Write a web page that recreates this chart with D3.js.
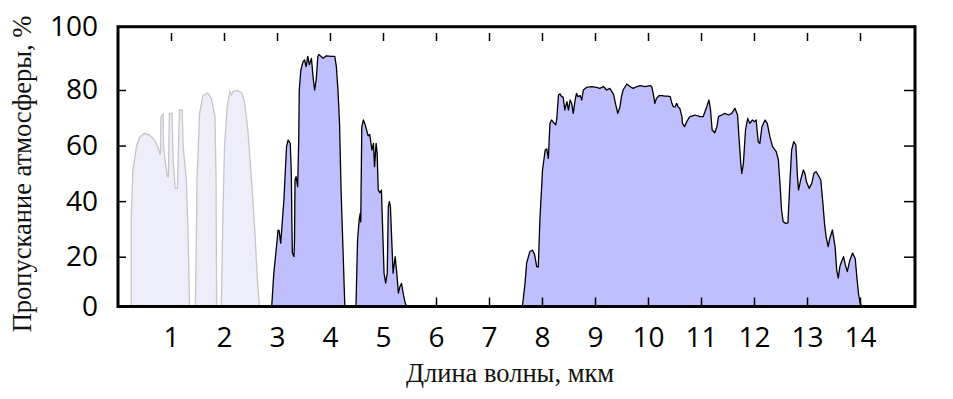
<!DOCTYPE html>
<html>
<head>
<meta charset="utf-8">
<script src="https://cdn.jsdelivr.net/npm/d3@7"></script>
<style>
    body { margin: 0; background: #fff; }
    .tick text { font-family: "Open Sans", sans-serif; font-size: 28px; fill: #000; }
    .title { font-family: "Liberation Serif", "Times New Roman", serif; font-size: 26.5px; fill: #111; }
</style>
</head>
<body>
<svg id="chart" width="953" height="399"></svg>
<script>

// wavelength (mkm), transmission (%)
var visBand1 = [[0.25,0],[0.25,34],[0.28,51],[0.35,60],[0.41,63],[0.50,64.4],[0.60,63.8],[0.69,62],[0.75,59.6],
    [0.80,56.6],[0.81,70.4],[0.85,71.4],[0.86,59.6],[0.88,56],[0.93,48.8],[0.95,48.8],[0.97,71.6],[1.02,71.6],
    [1.04,55],[1.08,44.6],[1.12,44.6],[1.16,72.8],[1.21,72.8],[1.23,59.6],[1.29,47.6],[1.32,29.6],[1.34,10.7],[1.35,0]];
var visBand2 = [[1.46,0],[1.48,29.6],[1.49,47.6],[1.54,71.6],[1.60,77.9],[1.69,79],[1.76,77],[1.83,70.4],[1.85,47.6],[1.86,0]];
var visBand3 = [[1.95,0],[1.98,35.6],[2.01,59.6],[2.06,74],[2.11,79.5],[2.14,78.2],[2.17,79.5],[2.26,79.8],[2.34,78.9],
    [2.39,75.3],[2.45,65.7],[2.52,47.6],[2.58,29.6],[2.63,10.7],[2.67,0]];

var band3to4 = [[2.90,0],[2.94,13.4],[2.99,23.6],[3.02,29.6],[3.04,29.4],[3.07,24.9],[3.13,40.4],[3.18,59.6],[3.21,62],
    [3.25,60.8],[3.27,50],[3.28,33.3],[3.29,21.4],[3.32,20],[3.33,25.4],[3.34,47.6],[3.36,48.8],[3.39,45.2],[3.41,62],
    [3.42,80],[3.45,86.3],[3.49,88.9],[3.52,89.5],[3.55,87.4],[3.58,90.6],[3.61,88],[3.65,90],[3.68,84.2],[3.71,80],
    [3.74,83.2],[3.77,90.6],[3.79,91.2],[3.87,90],[3.93,90.8],[4.03,90.6],[4.09,90.6],[4.12,87.4],[4.15,80],[4.18,68],
    [4.21,43.4],[4.25,20],[4.28,0]];
var band4to5 = [[4.49,0],[4.52,26],[4.55,33.2],[4.57,35.6],[4.58,32.5],[4.60,66.8],[4.63,69.2],[4.66,67.7],[4.69,65.6],
    [4.72,63.5],[4.75,64],[4.79,58.4],[4.82,60.8],[4.84,52.4],[4.87,60.8],[4.89,57.2],[4.91,44],[4.94,43],[4.97,44],
    [4.99,32],[5.02,13.4],[5.05,9.4],[5.08,13.4],[5.10,38],[5.12,39.8],[5.14,38],[5.17,23.6],[5.19,13.4],[5.23,20],
    [5.26,13.4],[5.29,5.4],[5.32,8],[5.35,9.3],[5.38,5.4],[5.42,1.3],[5.45,0]];
var band8to14 = [[7.63,0],[7.68,9.4],[7.71,17.4],[7.77,21.8],[7.82,22.4],[7.86,20.8],[7.90,16],[7.93,15.8],[7.96,33.2],
    [8.01,51.2],[8.06,58.4],[8.09,58.8],[8.12,55.4],[8.15,68],[8.18,69.2],[8.23,68],[8.26,67.5],[8.28,69.8],[8.31,78.2],
    [8.34,78.6],[8.37,77.6],[8.40,77.4],[8.43,72.8],[8.47,75.8],[8.50,72.8],[8.53,76.4],[8.56,75.2],[8.59,71.6],
    [8.62,75.8],[8.65,78.8],[8.68,77.6],[8.72,78],[8.75,76.4],[8.78,80],[8.84,80.8],[8.94,81.1],[9.03,80.8],[9.09,80.5],
    [9.16,81.1],[9.22,80],[9.28,80.5],[9.35,78.4],[9.39,74.8],[9.43,71.6],[9.47,73.9],[9.50,77.6],[9.53,80],[9.60,81.9],
    [9.66,81.1],[9.72,80.5],[9.79,81.1],[9.85,81.4],[9.94,81.1],[10.04,81.4],[10.07,81.1],[10.10,78.6],[10.13,75.2],
    [10.16,77],[10.21,78],[10.26,78],[10.32,77.8],[10.37,77.8],[10.42,77.6],[10.45,75.2],[10.48,73.9],[10.51,73.9],
    [10.54,75.2],[10.57,73.9],[10.60,73.4],[10.64,70.4],[10.65,68],[10.69,66.8],[10.73,68.6],[10.79,70.4],[10.89,71],
    [10.98,70.4],[11.04,70.4],[11.11,74],[11.15,76.4],[11.18,72.8],[11.21,65.6],[11.26,64.6],[11.30,66.8],[11.33,70.4],
    [11.39,71],[11.45,71.6],[11.52,71],[11.58,71.6],[11.64,73.4],[11.69,71],[11.72,62],[11.75,53.6],[11.77,50],
    [11.80,53.6],[11.84,65.6],[11.88,69.8],[11.92,68],[11.97,69.2],[12.01,68.6],[12.04,69.2],[12.08,61.4],[12.11,60.8],
    [12.15,66.8],[12.21,69.2],[12.25,68],[12.30,63.2],[12.35,59.6],[12.42,57.8],[12.46,54.8],[12.49,46.4],[12.52,36.8],
    [12.55,32.6],[12.60,32],[12.64,32.2],[12.67,44],[12.71,58.4],[12.75,61.4],[12.79,60.2],[12.82,48.8],[12.84,44],
    [12.88,47.6],[12.93,51.2],[12.96,50],[12.99,47],[13.04,44.6],[13.09,46.4],[13.13,50],[13.17,50.6],[13.21,49.4],
    [13.26,47.6],[13.30,39.2],[13.33,32],[13.36,27.2],[13.40,23.6],[13.43,26.6],[13.48,29.6],[13.53,23.6],[13.56,14.7],
    [13.59,11.4],[13.62,16],[13.65,18],[13.69,20],[13.72,17],[13.76,14],[13.81,18.7],[13.86,21.3],[13.91,19.3],
    [13.94,12],[13.97,5.4],[14.00,1.6],[14.03,0]];

var lightBands = [visBand1, visBand2, visBand3];
var darkBands = [band3to4, band4to5, band8to14];

var xTicks = [1,2,3,4,5,6,7,8,9,10,11,12,13,14];
var xTickMarksBottom = [6,7,8,9,10,11,12,13,14];
var yTicks = [0,20,40,60,80,100];
var yTickMarks = [20,40,60,80];

var xTitle = "Длина волны, мкм";
var yTitle = "Пропускание атмосферы, %";

var svg = d3.select("#chart");

// frame edges (window.top is taken, so no plain "top")
var frameLeft = 118, frameRight = 915, frameTop = 26.7, frameBottom = 306.5;

var x = d3.scaleLinear()
    .domain([0, 15])
    .range([118, 913]);

// the picture's y axis is not quite even, the ends are squeezed
var y = d3.scaleLinear()
    .domain([0, 20, 80, 100])
    .range([frameBottom, 256.7, 90, frameTop]);

var area = d3.area()
    .x(function(d) { return x(d[0]); })
    .y0(y(0))
    .y1(function(d) { return y(d[1]); });

// pale bands first (visible / near IR)
svg.append("g")
    .selectAll("path")
    .data(lightBands)
    .enter()
    .append("path")
    .attr("d", area)
    .style("fill", "#eeeefb")
    .style("stroke", "#c6c6c6")
    .style("stroke-width", 1.3);

svg.append("g")
    .selectAll("path")
    .data(darkBands)
    .enter()
    .append("path")
    .attr("d", area)
    .style("fill", "#bfbffd")
    .style("stroke", "#000")
    .style("stroke-width", 1.3)
    .style("stroke-linejoin", "round");

// axes
var xAxis = svg.append("g")
    .attr("transform", "translate(0," + frameBottom + ")")
    .call(d3.axisBottom(x).tickValues(xTicks).tickSize(0).tickPadding(21));
xAxis.select(".domain").remove();

var xMarks = svg.append("g")
    .attr("transform", "translate(0," + frameBottom + ")")
    .call(d3.axisBottom(x).tickValues(xTickMarksBottom).tickSizeInner(-9).tickFormat(""));
xMarks.select(".domain").remove();

var xTop = svg.append("g")
    .attr("transform", "translate(0,33)")
    .call(d3.axisTop(x).tickValues(xTicks).tickSizeInner(-8).tickFormat(""));
xTop.select(".domain").remove();

var yAxis = svg.append("g")
    .attr("transform", "translate(" + frameLeft + ",0)")
    .call(d3.axisLeft(y).tickValues(yTicks).tickSize(0).tickPadding(20));
yAxis.select(".domain").remove();

var yMarks = svg.append("g")
    .attr("transform", "translate(" + frameLeft + ",0)")
    .call(d3.axisLeft(y).tickValues(yTickMarks).tickSizeInner(-8).tickFormat(""));
yMarks.select(".domain").remove();

var yRight = svg.append("g")
    .attr("transform", "translate(" + frameRight + ",0)")
    .call(d3.axisRight(y).tickValues(yTickMarks).tickSizeInner(-11).tickFormat(""));
yRight.select(".domain").remove();

svg.selectAll(".tick line")
    .attr("stroke", "#000")
    .attr("stroke-width", 1.5);

// frame
svg.append("rect")
    .attr("x", frameLeft)
    .attr("y", frameTop)
    .attr("width", frameRight - frameLeft)
    .attr("height", frameBottom - frameTop)
    .style("fill", "none")
    .style("stroke", "#000")
    .style("stroke-width", 3);

svg.append("text")
    .attr("class", "title")
    .attr("x", 510)
    .attr("y", 382)
    .attr("text-anchor", "middle")
    .text(xTitle);

svg.append("text")
    .attr("class", "title")
    .attr("transform", "translate(31,174) rotate(-90)")
    .attr("text-anchor", "middle")
    .text(yTitle);

</script>
</body>
</html>
